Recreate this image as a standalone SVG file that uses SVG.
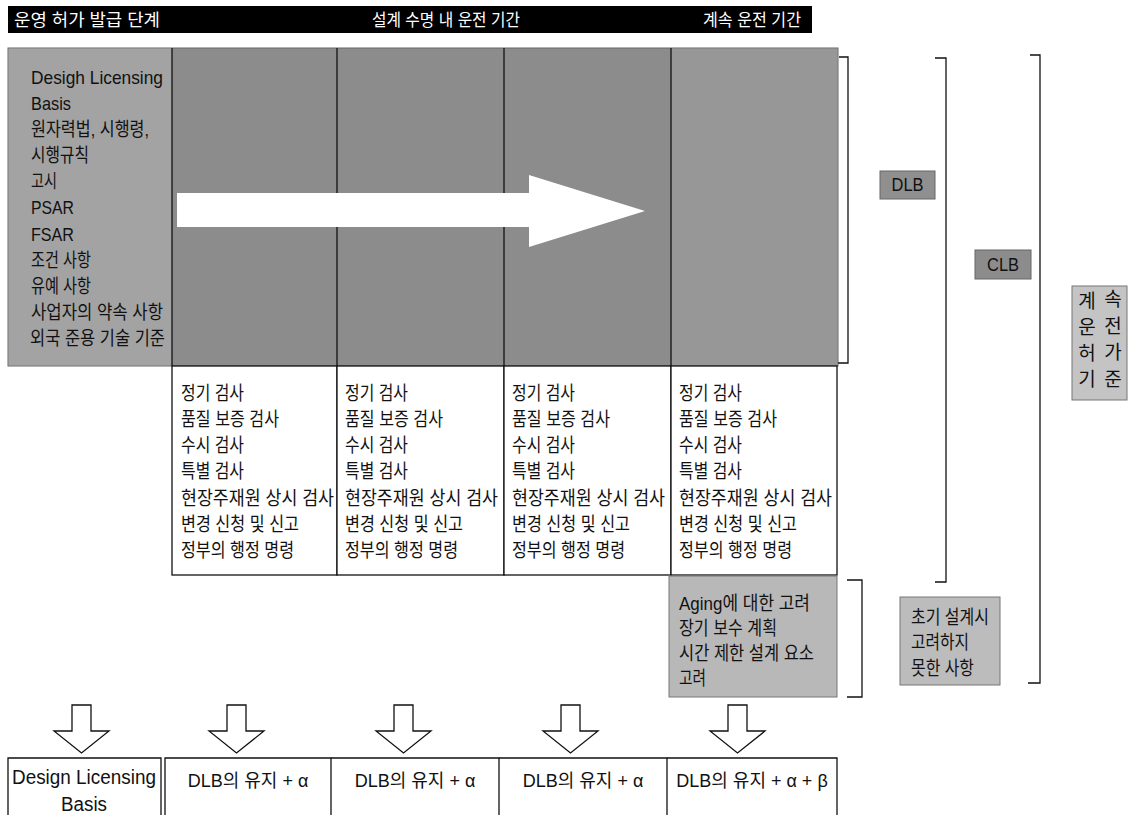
<svg xmlns="http://www.w3.org/2000/svg" width="1133" height="815" viewBox="0 0 1133 815">
<defs>
<style>
.kr{font-family:"Liberation Sans","Noto Sans CJK KR",sans-serif;}
.hdr{fill:#fff;font-size:17px;}
.t{fill:#111;font-size:19px;}
.tb{fill:#111;font-size:20px;}
.tr{fill:#111;font-size:18px;}
.ln{stroke:#111;stroke-width:1.3;fill:none;}
.box{fill:#fff;stroke:#111;stroke-width:1.3;}
.harrow{fill:#fff;stroke:#111;stroke-width:1.3;stroke-linejoin:miter;}
</style>
</defs>

<g id="header">
<rect x="8" y="6" width="804" height="27" fill="#000"/>
<text class="kr hdr" x="14" y="26" textLength="146" lengthAdjust="spacingAndGlyphs">운영 허가 발급 단계</text>
<text class="kr hdr" x="372" y="26" textLength="148" lengthAdjust="spacingAndGlyphs">설계 수명 내 운전 기간</text>
<text class="kr hdr" x="703" y="26" textLength="98" lengthAdjust="spacingAndGlyphs">계속 운전 기간</text>
</g>

<g id="dlb-area">
<rect x="8" y="48" width="830" height="318" fill="#8c8c8c" stroke="#666" stroke-width="1"/>
<rect x="8.5" y="48.5" width="163.5" height="317" fill="#a3a3a3"/>
<rect x="671" y="48.5" width="166.5" height="317" fill="#979797"/>
<line class="ln" x1="172" y1="48" x2="172" y2="366"/>
<line class="ln" x1="337" y1="48" x2="337" y2="366"/>
<line class="ln" x1="504" y1="48" x2="504" y2="366"/>
<line class="ln" x1="671" y1="48" x2="671" y2="366"/>
</g>

<g id="dlb-list">
<text class="kr t" x="31" y="84" textLength="132" lengthAdjust="spacingAndGlyphs">Desigh Licensing</text>
<text class="kr t" x="31" y="110" textLength="40" lengthAdjust="spacingAndGlyphs">Basis</text>
<text class="kr t" x="31" y="136" textLength="118" lengthAdjust="spacingAndGlyphs">원자력법, 시행령,</text>
<text class="kr t" x="31" y="162" textLength="58" lengthAdjust="spacingAndGlyphs">시행규칙</text>
<text class="kr t" x="31" y="188" textLength="26" lengthAdjust="spacingAndGlyphs">고시</text>
<text class="kr t" x="31" y="214" textLength="43" lengthAdjust="spacingAndGlyphs">PSAR</text>
<text class="kr t" x="31" y="241" textLength="43" lengthAdjust="spacingAndGlyphs">FSAR</text>
<text class="kr t" x="31" y="267" textLength="60" lengthAdjust="spacingAndGlyphs">조건 사항</text>
<text class="kr t" x="31" y="293" textLength="60" lengthAdjust="spacingAndGlyphs">유예 사항</text>
<text class="kr t" x="31" y="319" textLength="132" lengthAdjust="spacingAndGlyphs">사업자의 약속 사항</text>
<text class="kr t" x="30" y="345" textLength="135" lengthAdjust="spacingAndGlyphs">외국 준용 기술 기준</text>
</g>

<g id="big-arrow">
<polygon points="177,193 529,193 529,175 645,211 529,247 529,227 177,227" fill="#fff"/>
</g>

<g id="col1">
<rect class="box" x="172" y="366" width="165" height="209"/>
<text class="kr t" x="181" y="400" textLength="63" lengthAdjust="spacingAndGlyphs">정기 검사</text>
<text class="kr t" x="181" y="426" textLength="98" lengthAdjust="spacingAndGlyphs">품질 보증 검사</text>
<text class="kr t" x="181" y="452" textLength="63" lengthAdjust="spacingAndGlyphs">수시 검사</text>
<text class="kr t" x="181" y="478" textLength="63" lengthAdjust="spacingAndGlyphs">특별 검사</text>
<text class="kr t" x="181" y="505" textLength="153" lengthAdjust="spacingAndGlyphs">현장주재원 상시 검사</text>
<text class="kr t" x="181" y="531" textLength="118" lengthAdjust="spacingAndGlyphs">변경 신청 및 신고</text>
<text class="kr t" x="181" y="557" textLength="113" lengthAdjust="spacingAndGlyphs">정부의 행정 명령</text>
</g>
<g id="col2">
<rect class="box" x="337" y="366" width="167" height="209"/>
<text class="kr t" x="345" y="400" textLength="63" lengthAdjust="spacingAndGlyphs">정기 검사</text>
<text class="kr t" x="345" y="426" textLength="98" lengthAdjust="spacingAndGlyphs">품질 보증 검사</text>
<text class="kr t" x="345" y="452" textLength="63" lengthAdjust="spacingAndGlyphs">수시 검사</text>
<text class="kr t" x="345" y="478" textLength="63" lengthAdjust="spacingAndGlyphs">특별 검사</text>
<text class="kr t" x="345" y="505" textLength="153" lengthAdjust="spacingAndGlyphs">현장주재원 상시 검사</text>
<text class="kr t" x="345" y="531" textLength="118" lengthAdjust="spacingAndGlyphs">변경 신청 및 신고</text>
<text class="kr t" x="345" y="557" textLength="113" lengthAdjust="spacingAndGlyphs">정부의 행정 명령</text>
</g>
<g id="col3">
<rect class="box" x="504" y="366" width="167" height="209"/>
<text class="kr t" x="512" y="400" textLength="63" lengthAdjust="spacingAndGlyphs">정기 검사</text>
<text class="kr t" x="512" y="426" textLength="98" lengthAdjust="spacingAndGlyphs">품질 보증 검사</text>
<text class="kr t" x="512" y="452" textLength="63" lengthAdjust="spacingAndGlyphs">수시 검사</text>
<text class="kr t" x="512" y="478" textLength="63" lengthAdjust="spacingAndGlyphs">특별 검사</text>
<text class="kr t" x="512" y="505" textLength="153" lengthAdjust="spacingAndGlyphs">현장주재원 상시 검사</text>
<text class="kr t" x="512" y="531" textLength="118" lengthAdjust="spacingAndGlyphs">변경 신청 및 신고</text>
<text class="kr t" x="512" y="557" textLength="113" lengthAdjust="spacingAndGlyphs">정부의 행정 명령</text>
</g>
<g id="col4">
<rect class="box" x="671" y="366" width="166" height="209"/>
<text class="kr t" x="679" y="400" textLength="63" lengthAdjust="spacingAndGlyphs">정기 검사</text>
<text class="kr t" x="679" y="426" textLength="98" lengthAdjust="spacingAndGlyphs">품질 보증 검사</text>
<text class="kr t" x="679" y="452" textLength="63" lengthAdjust="spacingAndGlyphs">수시 검사</text>
<text class="kr t" x="679" y="478" textLength="63" lengthAdjust="spacingAndGlyphs">특별 검사</text>
<text class="kr t" x="679" y="505" textLength="153" lengthAdjust="spacingAndGlyphs">현장주재원 상시 검사</text>
<text class="kr t" x="679" y="531" textLength="118" lengthAdjust="spacingAndGlyphs">변경 신청 및 신고</text>
<text class="kr t" x="679" y="557" textLength="113" lengthAdjust="spacingAndGlyphs">정부의 행정 명령</text>
</g>

<g id="aging">
<rect x="669" y="576" width="168" height="121" fill="#b8b8b8" stroke="#777" stroke-width="1"/>
<text class="kr t" x="679" y="610" textLength="131" lengthAdjust="spacingAndGlyphs">Aging에 대한 고려</text>
<text class="kr t" x="679" y="635" textLength="98" lengthAdjust="spacingAndGlyphs">장기 보수 계획</text>
<text class="kr t" x="679" y="660" textLength="135" lengthAdjust="spacingAndGlyphs">시간 제한 설계 요소</text>
<text class="kr t" x="679" y="685" textLength="27" lengthAdjust="spacingAndGlyphs">고려</text>
</g>

<g id="label-dlb">
<rect x="880" y="171" width="55" height="28" fill="#8f8f8f" stroke="#666" stroke-width="1"/>
<text class="kr t" x="907.5" y="191" text-anchor="middle" font-size="17" textLength="32" lengthAdjust="spacingAndGlyphs">DLB</text>
</g>
<g id="label-clb">
<rect x="975" y="250" width="56" height="29" fill="#8c8c8c" stroke="#666" stroke-width="1"/>
<text class="kr t" x="1003" y="271" text-anchor="middle" font-size="17" textLength="32" lengthAdjust="spacingAndGlyphs">CLB</text>
</g>
<g id="label-continued">
<rect x="1072" y="286" width="55" height="114" fill="#c4c4c4" stroke="#777" stroke-width="1"/>
<text class="kr t" x="1087" y="308" text-anchor="middle" font-size="18">계</text>
<text class="kr t" x="1113" y="306" text-anchor="middle" font-size="18">속</text>
<text class="kr t" x="1087" y="334" text-anchor="middle" font-size="18">운</text>
<text class="kr t" x="1113" y="333" text-anchor="middle" font-size="18">전</text>
<text class="kr t" x="1087" y="360" text-anchor="middle" font-size="18">허</text>
<text class="kr t" x="1113" y="359" text-anchor="middle" font-size="18">가</text>
<text class="kr t" x="1087" y="386" text-anchor="middle" font-size="18">기</text>
<text class="kr t" x="1113" y="386" text-anchor="middle" font-size="18">준</text>
</g>
<g id="label-unconsidered">
<rect x="900" y="597" width="100" height="88" fill="#bcbcbc" stroke="#777" stroke-width="1"/>
<text class="kr t" x="911" y="624" textLength="78" lengthAdjust="spacingAndGlyphs">초기 설계시</text>
<text class="kr t" x="911" y="649" textLength="58" lengthAdjust="spacingAndGlyphs">고려하지</text>
<text class="kr t" x="911" y="675" textLength="63" lengthAdjust="spacingAndGlyphs">못한 사항</text>
</g>

<g id="connectors">
<polyline class="ln" points="839,57 848,57 848,363 838,363"/>
<polyline class="ln" points="935,58 946,58 946,582 935,582"/>
<polyline class="ln" points="1030,55 1040,55 1040,683 1028,683"/>
<polyline class="ln" points="847,580 862,580 862,697 847,697"/>
<polygon class="harrow" points="72,705 91,705 91,731 109,731 81.5,753 54,731 72,731"/>
<polygon class="harrow" points="227,705 246,705 246,731 264,731 236.5,753 209,731 227,731"/>
<polygon class="harrow" points="394,705 413,705 413,731 431,731 403.5,753 376,731 394,731"/>
<polygon class="harrow" points="561,705 580,705 580,731 598,731 570.5,753 543,731 561,731"/>
<polygon class="harrow" points="728,705 747,705 747,731 765,731 737.5,753 710,731 728,731"/>
</g>

<g id="result-0">
<polyline class="ln" points="8,820 8,758 161,758 161,820"/>
<text class="kr tb" x="84" y="784" text-anchor="middle" textLength="144" lengthAdjust="spacingAndGlyphs">Design Licensing</text>
<text class="kr tb" x="84" y="811" text-anchor="middle" textLength="46" lengthAdjust="spacingAndGlyphs">Basis</text>
</g>
<g id="result-1">
<polyline class="ln" points="165,820 165,758 331,758 331,820"/>
<text class="kr tr" x="248" y="787" text-anchor="middle">DLB의 유지 + α</text>
</g>
<g id="result-2">
<polyline class="ln" points="331,758 499,758 499,820"/>
<text class="kr tr" x="415" y="787" text-anchor="middle">DLB의 유지 + α</text>
</g>
<g id="result-3">
<polyline class="ln" points="499,758 667,758 667,820"/>
<text class="kr tr" x="583" y="787" text-anchor="middle">DLB의 유지 + α</text>
</g>
<g id="result-4">
<polyline class="ln" points="667,758 837,758 837,820"/>
<text class="kr tr" x="752" y="787" text-anchor="middle">DLB의 유지 + α + β</text>
</g>
</svg>
